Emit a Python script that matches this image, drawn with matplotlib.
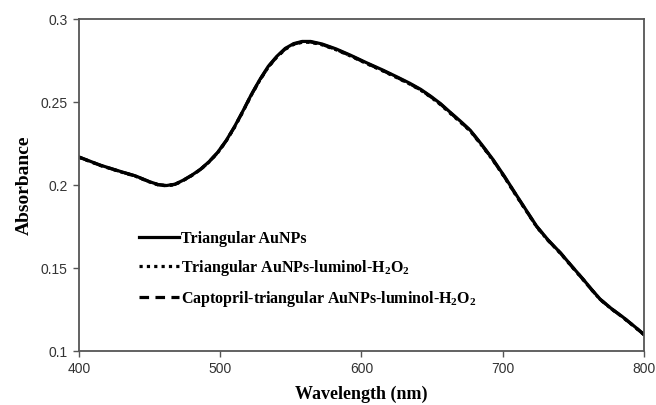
import matplotlib
matplotlib.use("Agg")
from matplotlib import pyplot as plt
from matplotlib.ticker import FormatStrFormatter

# Data (wavelength in nm, absorbance)
wavelength = [400, 415, 430, 440, 450, 456, 462, 468, 474, 480, 486, 492, 498, 504, 510,
              516, 522, 528, 534, 540, 546, 552, 558, 564, 572, 582, 592, 604, 615, 625,
              634, 642, 649, 656, 663, 670, 677, 685, 693, 701, 710, 718, 724, 732, 741,
              749, 757, 763, 769, 777, 785, 793, 800]
abs_triangular = [0.2169, 0.2120, 0.2080, 0.2055, 0.2020, 0.2003, 0.1997, 0.2005, 0.2030,
                  0.2060, 0.2095, 0.2140, 0.2195, 0.2265, 0.2350, 0.2445, 0.2545, 0.2635,
                  0.2715, 0.2775, 0.2823, 0.2852, 0.2865, 0.2865, 0.2850, 0.2820, 0.2783,
                  0.2735, 0.2693, 0.2652, 0.2614, 0.2576, 0.2535, 0.2490, 0.2437, 0.2385,
                  0.2330, 0.2245, 0.2155, 0.2055, 0.1935, 0.1830, 0.1752, 0.1670, 0.1590,
                  0.1510, 0.1432, 0.1370, 0.1312, 0.1255, 0.1205, 0.1150, 0.1100]
abs_luminol = [0.2167, 0.2118, 0.2078, 0.2053, 0.2018, 0.2001, 0.1995, 0.2003, 0.2028,
               0.2058, 0.2093, 0.2138, 0.2192, 0.2262, 0.2346, 0.2441, 0.2541, 0.2631,
               0.2710, 0.2770, 0.2818, 0.2847, 0.2860, 0.2860, 0.2845, 0.2815, 0.2778,
               0.2730, 0.2688, 0.2647, 0.2609, 0.2571, 0.2530, 0.2484, 0.2431, 0.2379,
               0.2325, 0.2240, 0.2150, 0.2050, 0.1930, 0.1826, 0.1748, 0.1667, 0.1587,
               0.1507, 0.1429, 0.1368, 0.1310, 0.1253, 0.1203, 0.1148, 0.1098]
abs_captopril = [0.2168, 0.2119, 0.2079, 0.2054, 0.2019, 0.2002, 0.1996, 0.2004, 0.2029,
                 0.2059, 0.2094, 0.2139, 0.2194, 0.2264, 0.2348, 0.2443, 0.2543, 0.2633,
                 0.2712, 0.2772, 0.2820, 0.2849, 0.2862, 0.2862, 0.2847, 0.2817, 0.2780,
                 0.2732, 0.2690, 0.2649, 0.2611, 0.2573, 0.2532, 0.2487, 0.2434, 0.2382,
                 0.2328, 0.2243, 0.2152, 0.2052, 0.1932, 0.1828, 0.1750, 0.1668, 0.1589,
                 0.1509, 0.1430, 0.1369, 0.1311, 0.1254, 0.1204, 0.1149, 0.1099]

labels = ["Triangular AuNPs",
          r"Triangular AuNPs-luminol-H$_\mathbf{2}$O$_\mathbf{2}$",
          r"Captopril-triangular AuNPs-luminol-H$_\mathbf{2}$O$_\mathbf{2}$"]

plt.rcParams["mathtext.fontset"] = "custom"
plt.rcParams["mathtext.rm"] = "Liberation Serif:bold"
plt.rcParams["mathtext.bf"] = "Liberation Serif:bold"

fig = plt.figure(figsize=(6.56, 4.05), dpi=100)
ax = fig.add_axes([0.1204, 0.1333, 0.8613, 0.8197])

ax.plot(wavelength, abs_triangular, color="black", linewidth=2.3, linestyle="-", label=labels[0])
ax.plot(wavelength, abs_luminol, color="black", linewidth=2.3, linestyle=(0, (1, 1.3)), label=labels[1])
ax.plot(wavelength, abs_captopril, color="black", linewidth=2.3, linestyle=(0, (3, 2)), label=labels[2])

ax.set_xlim(400, 800)
ax.set_ylim(0.1, 0.3)
ax.set_xticks([400, 500, 600, 700, 800])
ax.set_yticks([0.1, 0.15, 0.2, 0.25, 0.3])
ax.yaxis.set_major_formatter(FormatStrFormatter("%g"))

for s in ax.spines.values():
    s.set_color("#555555")
    s.set_linewidth(1.3)
ax.tick_params(direction="out", length=4, width=1, color="#555555",
               labelsize=10, labelcolor="#333333", pad=4)
for t in ax.get_xticklabels() + ax.get_yticklabels():
    t.set_family("Liberation Sans")

ax.set_xlabel("Wavelength (nm)", family="Liberation Serif", weight="bold", fontsize=13, labelpad=7)
ax.set_ylabel("Absorbance", family="Liberation Serif", weight="bold", fontsize=14, labelpad=6)

leg = ax.legend(loc="upper left", bbox_to_anchor=(0.081, 0.405), frameon=False,
                handlelength=2.5, handletextpad=0.1, labelspacing=0.68,
                prop={"family": "Liberation Serif", "weight": "bold", "size": 11.5})

fig.savefig("out.png", dpi=100)
